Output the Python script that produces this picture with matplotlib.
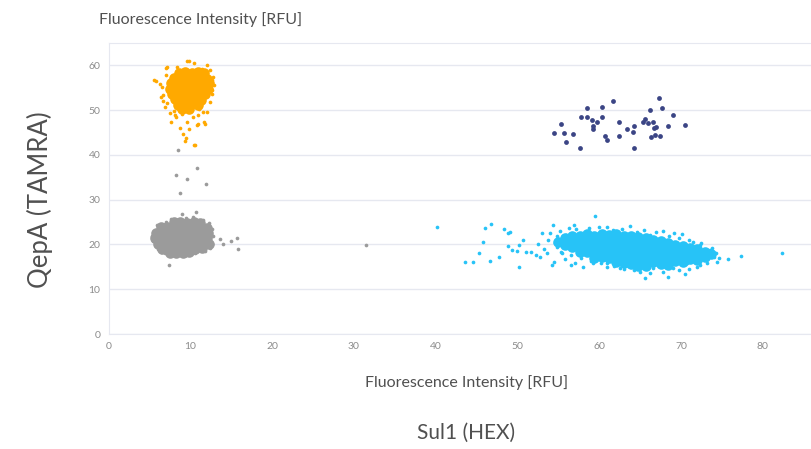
import numpy as np
import matplotlib
matplotlib.use("Agg")
import matplotlib.pyplot as plt

#-------------------------------------------------------------------------------
# axis text
x_ticks      = [0, 10, 20, 30, 40, 50, 60, 70, 80]
y_ticks      = [0, 10, 20, 30, 40, 50, 60]
axis_title   = 'Fluorescence Intensity [RFU]'
x_channel    = 'Sul1 (HEX)'
y_channel    = 'QepA (TAMRA)'
#-------------------------------------------------------------------------------
# orange cluster (QepA+ / Sul1-), dense core and loose droplets
orange_core_x = [8.6, 9.4, 10.2, 11.0, 11.7,
                 8.0, 8.8, 9.6, 10.4, 11.2, 12.0,
                 7.6, 8.4, 9.2, 10.0, 10.8, 11.6, 12.3,
                 7.5, 8.3, 9.1, 9.9, 10.7, 11.5, 12.2,
                 7.8, 8.6, 9.4, 10.2, 11.0, 11.8,
                 8.1, 8.9, 9.7, 10.5, 11.3,
                 8.5, 9.3, 10.1, 10.9,
                 9.0, 9.8]
orange_core_y = [58.4, 58.6, 58.3, 58.5, 58.2,
                 57.2, 57.3, 57.1, 57.3, 57.2, 57.0,
                 56.0, 56.1, 55.9, 56.0, 56.1, 55.9, 56.0,
                 54.8, 54.7, 54.9, 54.8, 54.7, 54.9, 54.8,
                 53.6, 53.5, 53.7, 53.6, 53.5, 53.6,
                 52.4, 52.3, 52.5, 52.4, 52.3,
                 51.2, 51.1, 51.3, 51.2,
                 50.2, 50.3]
orange_x = [7.0, 9.6, 10.4, 5.8, 6.3, 6.5, 6.7, 6.4, 7.7, 8.7, 8.3, 9.6, 9.8,
            9.1, 9.5, 10.6, 10.9, 11.7, 11.6, 12.6, 12.7, 12.4, 12.0, 8.1, 10.3,
            5.6, 6.7, 7.5, 9.4, 10.5, 10.8, 11.8, 7.1, 9.8, 11.4, 12.6, 12.4,
            12.0, 7.2, 8.0, 11.1, 12.9, 7.0, 8.4, 9.0, 10.9, 11.9, 6.9, 12.8]
orange_y = [59.5, 61.0, 60.6, 56.5, 55.9, 55.2, 52.1, 53.0, 47.4, 46.1, 48.5,
            47.4, 45.7, 44.6, 43.7, 42.2, 46.9, 47.3, 49.6, 56.7, 54.5, 58.9,
            60.0, 48.9, 48.4, 56.7, 53.3, 49.3, 43.1, 42.2, 46.7, 47.0, 59.7,
            60.9, 59.3, 53.7, 51.9, 49.6, 51.5, 49.8, 50.2, 55.6, 57.8, 59.6,
            49.1, 49.0, 58.1, 50.6, 57.4]
#-------------------------------------------------------------------------------
# grey cluster (double negative) and scattered grey droplets
grey_core_x = [8.0, 8.8, 9.6, 10.4, 11.2,
               6.4, 7.2, 8.0, 8.8, 9.6, 10.4, 11.2, 12.0,
               5.8, 6.6, 7.4, 8.2, 9.0, 9.8, 10.6, 11.4, 12.2,
               5.7, 6.5, 7.3, 8.1, 8.9, 9.7, 10.5, 11.3, 12.1,
               6.0, 6.8, 7.6, 8.4, 9.2, 10.0, 10.8, 11.6, 12.3,
               6.6, 7.4, 8.2, 9.0, 9.8, 10.6, 11.4,
               7.5, 8.3, 9.1, 9.9]
grey_core_y = [25.0, 25.1, 24.9, 25.0, 24.8,
               23.8, 23.9, 23.8, 23.7, 23.8, 23.9, 23.8, 23.6,
               22.6, 22.7, 22.6, 22.5, 22.6, 22.7, 22.6, 22.5, 22.6,
               21.4, 21.3, 21.4, 21.5, 21.4, 21.3, 21.4, 21.5, 21.4,
               20.2, 20.1, 20.2, 20.3, 20.2, 20.1, 20.2, 20.3, 20.2,
               19.0, 19.1, 19.0, 18.9, 19.0, 19.1, 19.2,
               18.2, 18.1, 18.2, 18.3]
grey_x = [8.5, 8.3, 9.6, 10.8, 8.8, 11.9, 10.7, 9.0, 13.6, 14.0, 15.0, 15.7,
          15.8, 7.4, 31.5, 5.3, 5.5, 6.0, 6.4, 6.9, 5.9, 7.0, 7.6, 9.5, 10.3,
          11.5, 12.3, 12.6, 12.8, 12.7, 12.4, 11.8, 10.6, 9.5, 8.2]
grey_y = [41.2, 35.6, 34.6, 37.0, 31.6, 33.5, 27.2, 26.8, 21.2, 20.0, 20.8,
          21.4, 19.1, 15.5, 19.9, 22.0, 20.8, 18.9, 18.4, 18.0, 24.3, 25.0,
          25.8, 25.9, 26.1, 25.5, 24.8, 23.5, 21.8, 20.2, 19.2, 18.6, 18.0,
          17.6, 17.6]
#-------------------------------------------------------------------------------
# navy cluster (double positive)
navy_x = [54.5, 55.3, 55.7, 55.9, 56.8, 57.6, 57.8, 58.5, 58.5, 59.1, 59.3,
          59.3, 59.7, 60.4, 60.4, 60.7, 61.0, 61.7, 62.4, 62.4, 63.4, 64.1,
          64.2, 64.3, 65.4, 65.6, 66.0, 66.2, 66.3, 66.6, 66.7, 66.8, 66.9,
          67.3, 67.4, 67.7, 68.4, 69.0, 70.5]
navy_y = [44.8, 47.0, 45.0, 42.8, 44.7, 41.6, 48.5, 50.5, 48.5, 47.9, 46.5,
          45.8, 47.4, 50.7, 48.5, 44.3, 43.3, 52.0, 47.3, 44.3, 45.8, 45.2,
          46.5, 41.6, 47.4, 48.1, 47.1, 50.0, 44.0, 47.4, 46.1, 44.4, 46.3,
          52.7, 44.2, 50.4, 46.4, 49.0, 46.6]
#-------------------------------------------------------------------------------
# cyan cluster (Sul1+ / QepA-)
cyan_core_x = [55.0,
               55.8, 55.8,
               56.7, 56.7, 56.7,
               57.6, 57.6, 57.6, 57.6,
               58.5, 58.5, 58.5, 58.5,
               59.4, 59.4, 59.4, 59.4, 59.4,
               60.3, 60.3, 60.3, 60.3, 60.3,
               61.2, 61.2, 61.2, 61.2, 61.2,
               62.1, 62.1, 62.1, 62.1, 62.1, 62.1,
               63.0, 63.0, 63.0, 63.0, 63.0, 63.0,
               63.9, 63.9, 63.9, 63.9, 63.9, 63.9,
               64.8, 64.8, 64.8, 64.8, 64.8, 64.8,
               65.7, 65.7, 65.7, 65.7, 65.7, 65.7,
               66.6, 66.6, 66.6, 66.6, 66.6,
               67.5, 67.5, 67.5, 67.5, 67.5,
               68.4, 68.4, 68.4, 68.4, 68.4,
               69.3, 69.3, 69.3, 69.3,
               70.2, 70.2, 70.2, 70.2,
               71.1, 71.1, 71.1,
               72.0, 72.0, 72.0,
               72.9, 72.9,
               73.7]
cyan_core_y = [20.6,
               21.4, 19.8,
               22.0, 20.8, 19.5,
               21.9, 20.6, 19.3, 18.3,
               22.3, 21.0, 19.7, 18.4,
               22.0, 20.7, 19.4, 18.1, 17.0,
               22.4, 21.1, 19.8, 18.5, 17.2,
               22.1, 20.8, 19.5, 18.2, 16.9,
               22.3, 21.0, 19.7, 18.4, 17.1, 16.0,
               22.0, 20.7, 19.4, 18.1, 16.8, 15.8,
               21.8, 20.5, 19.2, 17.9, 16.6, 15.6,
               21.6, 20.3, 19.0, 17.7, 16.4, 15.3,
               21.4, 20.1, 18.8, 17.5, 16.2, 15.2,
               21.0, 19.8, 18.5, 17.2, 16.0,
               20.7, 19.4, 18.1, 16.8, 15.6,
               20.3, 19.1, 17.8, 16.5, 15.4,
               19.9, 18.7, 17.5, 16.3,
               19.6, 18.4, 17.2, 16.0,
               19.2, 18.0, 16.8,
               18.9, 17.7, 16.6,
               18.4, 17.3,
               17.8]
cyan_x = [40.2, 46.0, 46.8, 45.8, 45.3, 43.6, 44.6, 46.6, 47.7, 48.3, 49.1,
          48.8, 50.7, 48.8, 49.3, 50.2, 50.0, 51.1, 50.2, 51.7, 52.3, 52.5,
          53.0, 53.6, 54.0, 54.4, 54.5, 54.2, 55.2, 56.0, 56.3, 56.9, 53.2,
          52.8, 56.6, 58.0, 59.5, 59.3, 54.8, 55.4, 60.9,
          63.8, 65.6, 68.4, 70.5, 69.1, 70.1, 67.8, 75.8, 77.4, 82.4, 74.1,
          74.4, 73.5, 72.3, 71.5, 72.3, 70.7, 60.9, 62.5, 65.0, 66.6, 64.6,
          66.2, 61.7, 60.5, 69.0, 72.9,
          57.2, 58.8, 60.0, 61.0, 62.8, 65.5, 67.0, 68.5, 69.8, 71.0, 72.5,
          73.8, 74.3, 74.6, 73.2, 72.0, 71.0, 69.8, 67.8, 66.2, 64.2, 63.0,
          61.8, 60.2, 59.0, 57.8, 56.5, 55.3, 54.6, 54.8, 53.8, 55.8, 57.0]
cyan_y = [23.8, 23.6, 24.6, 20.5, 18.2, 16.0, 16.1, 16.4, 17.3, 23.4, 22.8,
          22.5, 21.1, 19.7, 18.8, 19.9, 18.6, 18.4, 15.0, 18.4, 17.6, 20.2,
          22.5, 18.0, 22.5, 24.3, 16.1, 15.4, 23.1, 22.1, 23.6, 24.3, 19.1,
          17.3, 15.4, 15.0, 26.3, 15.8, 19.5, 18.0, 15.0,
          24.1, 12.4, 12.8, 13.5, 22.6, 22.3, 23.1, 16.7, 17.5, 18.0, 17.3,
          16.1, 18.8, 19.9, 20.6, 15.4, 15.8, 15.8, 14.7, 13.9, 14.7, 22.8,
          22.1, 23.2, 22.5, 14.7, 18.0,
          23.4, 23.6, 23.8, 24.0, 23.5, 23.3, 22.8, 22.0, 21.5, 21.0, 20.3,
          19.2, 18.2, 17.0, 15.8, 15.0, 14.6, 14.3, 13.8, 13.6, 14.2, 14.6,
          15.2, 15.9, 16.4, 16.9, 17.6, 18.3, 20.4, 21.8, 21.0, 16.8, 15.9]
#-------------------------------------------------------------------------------
c_orange = '#FFA900'
c_grey   = '#9B9B9B'
c_navy   = '#3B4585'
c_cyan   = '#27C3F7'
core_s   = 58
dot_s    = 7
#-------------------------------------------------------------------------------
plt.rcParams['font.family'] = ['Lato', 'DejaVu Sans']
fig = plt.figure(figsize=(8.11, 4.49), dpi=100)
ax = fig.add_axes([0.1338, 0.2561, 0.8662, 0.6481])

ax.scatter(grey_core_x, grey_core_y, s=core_s, color=c_grey, linewidths=0, zorder=3)
ax.scatter(grey_x, grey_y, s=dot_s, color=c_grey, linewidths=0, zorder=3)
ax.scatter(orange_core_x, orange_core_y, s=core_s, color=c_orange, linewidths=0, zorder=3)
ax.scatter(orange_x, orange_y, s=dot_s, color=c_orange, linewidths=0, zorder=3)
ax.scatter(cyan_core_x, cyan_core_y, s=core_s, color=c_cyan, linewidths=0, zorder=3)
ax.scatter(cyan_x, cyan_y, s=dot_s, color=c_cyan, linewidths=0, zorder=3)
ax.scatter(navy_x, navy_y, s=12, color=c_navy, linewidths=0, zorder=3)

ax.set_xlim(0, 85.9)
ax.set_ylim(0, 65)
ax.set_xticks(x_ticks)
ax.set_yticks(y_ticks)
ax.tick_params(length=0, labelsize=7.5, labelcolor='#8C8C8C', pad=6)
ax.grid(True, axis='y', color='#E6E8F0', linewidth=1)
for side in ['left', 'top', 'bottom']:
    ax.spines[side].set_color('#E6E8F0')
ax.spines['right'].set_visible(False)

fig.text(0.1215, 0.957, axis_title, fontsize=11.5, color='#505050', ha='left', va='center')
fig.text(0.575, 0.147, axis_title, fontsize=11.5, color='#505050', ha='center', va='center')
fig.text(0.575, 0.035, x_channel, fontsize=15, color='#505050', ha='center', va='center')
fig.text(0.049, 0.555, y_channel, fontsize=18.5, color='#505050', ha='center', va='center',
         rotation=90)

fig.savefig('out.png', dpi=100)
